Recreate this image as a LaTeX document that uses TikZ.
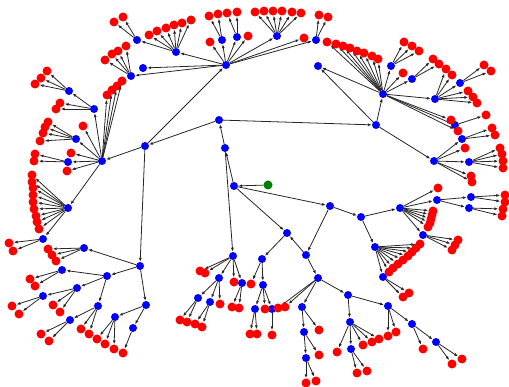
\documentclass[tikz,border=0pt]{standalone}
\usetikzlibrary{arrows.meta}
\tikzset{
  bnode/.style={circle,fill=blue,inner sep=0pt,minimum size=8pt},
  rnode/.style={circle,fill=red,inner sep=0pt,minimum size=9pt},
  gnode/.style={circle,fill=green!50!black,inner sep=0pt,minimum size=9pt},
  edge/.style={-{Latex[length=4pt,width=3pt]},line width=0.8pt,black!85},
}
\begin{document}
\begin{tikzpicture}[x=1pt,y=-1pt]
\useasboundingbox (0,0) rectangle (509,387);
% inner nodes
\node[gnode] (g) at (268,185) {};
\foreach \n/\x/\y in {h0/234/186, c1/225/148, c2/219/120, L1/145/146, R1/376/125,
  T1/226/65, LH/102/161, LB/140/266, M1/330/206, M2/361/217, M3/287/233,
  M4/306/255, M5/262/259, E1/233/256, RH/383/94, Q1/318/66, RB/434/161,
  S1/400/208, S2/375/247,
  E2/219/278, E3/242/283, E4/198/298, E5/210/302,
  M6/318/278, M7/263/285, M8/255/309, M9/272/309, M10/302/307, M11/348/295,
  M12/304/332, M13/306/358, M14/350/322, M15/388/306, M16/351/349,
  M17/412/324, M18/436/342,
  S3/383/277, S4/437/200, S5/423/235, S6/471/197, S7/469/208,
  RB1/462/139, RB2/469/162,
  RH1/391/66, RH2/412/79, RH3/435/99, RH4/455/125, RH5/460/83,
  T2/176/52, T3/143/68, T4/131/76, T5/222/40, T6/237/37, T7/277/36,
  T8/316/40, T9/137/40,
  LH1/94/109, LH2/76/139, LH3/68/162, LH4/68/208, LH5/69/91, LH6/43/239,
  LB1/84/248, LB2/107/276, LB3/146/305, LB4/62/270, LB5/77/288,
  LB6/98/306, LB7/43/296, LB8/70/320, LB9/115/317, LB10/133/328}
  \node[bnode] (\n) at (\x,\y) {};
%
\foreach \a/\b in {g/h0, h0/c1, h0/M1, h0/M3, c1/c2, c1/E1, c2/L1, c2/R1,
  L1/LH, L1/T1, L1/LB, R1/Q1, R1/RH, RH/Q1, R1/RB, M1/M2, M1/M4, M2/S1,
  M2/S2, M4/M3, M3/M5, M4/M6, E1/E2, E1/E3, E2/E4, E2/E5, M5/M7, M7/M8,
  M7/M9, M6/M10, M6/M11, M10/M12, M12/M13, M11/M14, M11/M15, M14/M16,
  M15/M17, M17/M18, S2/S3, S1/S4, S1/S5, S4/S6, S4/S7, RB/RB1, RB/RB2,
  RH/RH1, RH/RH2, RH/RH3, RH/RH4, RH3/RH5, T1/T2, T1/T3, T1/T4, T1/T5,
  T1/T6, T1/T7, T1/T8, T2/T9, LH/LH1, LH/LH2, LH/LH3, LH/LH4, LH1/LH5,
  LH4/LH6, LB/LB1, LB/LB2, LB/LB3, LB2/LB4, LB2/LB5, LB2/LB6, LB5/LB7,
  LB6/LB8, LB3/LB9, LB3/LB10}
  \draw[edge] (\a) -- (\b);
% leaves
\foreach \p/\x/\y [count=\i] in {E1/200/271, E1/205/273, E1/234/282,
  E2/220/304, E4/180/320, E4/187/322, E5/195/324, E5/202/327,
  E3/232/307, E3/239/308, M5/251/284, M7/265/309, M8/250/334, M8/257/334,
  M9/272/335, M6/278/308, M6/285/307, M10/319/330, M12/319/355,
  M13/306/383, M13/316/381, M14/337/352, M14/363/345, M14/372/342,
  M14/379/339, M16/357/373, M16/367/371, M15/388/336, M15/396/332,
  M17/423/349, M18/452/364, M18/462/359, S3/403/297, S3/409/293,
  S2/389/272, S2/393/268, S2/398/264, S2/403/260, S2/408/256, S2/412/252,
  S2/416/248, S2/420/244,
  S1/438/188, S1/433/211, S1/432/215, S1/431/219, S1/430/223, S1/428/227,
  S5/458/240, S5/455/245, S5/452/250, S6/505/195, S6/505/202,
  S7/503/209, S7/502/216, RB/465/148, RB/471/176, RB/472/182,
  RB1/492/128, RB1/495/135, RB2/500/148, RB2/502/154, RB2/503/161,
  RB2/503/168,
  RH/327/42, RH/336/44, RH/343/46, RH/350/48, RH/357/51, RH/364/53,
  RH/372/56, RH/378/59, RH/403/73, RH/451/120, RH/458/131,
  RH1/404/42, RH1/412/46, RH1/419/51, RH2/433/59, RH2/439/64,
  RH3/446/69, RH3/452/75, RH3/468/91, RH3/473/97, RH3/477/103,
  RH5/484/65, RH5/491/71, RH4/486/115,
  T1/210/42, T1/248/36, T1/304/38, T5/209/16, T5/218/14, T6/227/13,
  T6/237/12, T7/255/12, T7/264/11, T7/273/11, T7/282/11, T7/292/12,
  T7/301/13, T8/319/15, T8/328/17,
  T2/149/35, T2/157/31, T2/166/28, T2/174/25, T2/182/23, T2/191/20,
  T9/114/22, T9/123/17, T4/105/60, T4/112/54, T4/118/51, T4/126/46,
  LH/71/153, LH/67/171, LH/83/126, LH/107/95, LH/112/90, LH/117/86,
  LH/122/81, LH1/60/103, LH1/56/109, LH5/47/71, LH5/41/78, LH5/35/84,
  LH2/48/122, LH2/45/127, LH2/43/133, LH2/40/141, LH3/35/154, LH3/34/161,
  LH4/32/175, LH4/32/182, LH4/33/188, LH4/33/195, LH4/33/202, LH4/34/209,
  LH4/36/216, LH4/37/222, LH4/39/229, LH6/9/243, LH6/13/251,
  LB1/48/249, LB1/52/255, LB1/56/261, LB4/30/279, LB4/35/286,
  LB5/53/305, LB5/60/312, LB7/12/306, LB7/19/314, LB6/81/329, LB6/89/334,
  LB8/41/334, LB8/49/341, LB9/97/339, LB9/105/344, LB9/114/349,
  LB10/123/353}
{
  \node[rnode] (r\i) at (\x,\y) {};
  \draw[edge] (\p) -- (r\i);
}
\end{tikzpicture}
\end{document}
